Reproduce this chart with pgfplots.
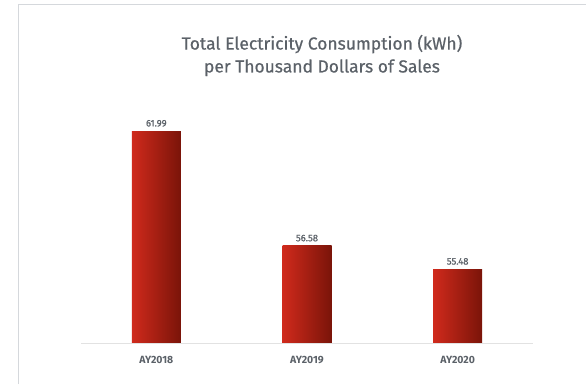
\documentclass[border=0pt]{standalone}
\usepackage{pgfplots}
\pgfplotsset{compat=1.18}
\usepackage{fontspec}
\setmainfont{Fira Sans}
\newfontfamily\titlefont[FakeBold=0.6]{Fira Sans}
\newfontfamily\labfont[FakeBold=0.8]{Fira Sans}
\definecolor{txt}{HTML}{5B6168}
\definecolor{barL}{HTML}{D02A1C}
\definecolor{barR}{HTML}{7A1409}
\definecolor{frame}{HTML}{D5D8DC}
\definecolor{base}{HTML}{E2E2E2}
\begin{document}
\begin{tikzpicture}[x=1bp,y=1bp]
\path[use as bounding box] (-81,-41) rectangle (505,343);
\draw[frame, line width=1bp] (-62,-41) -- (-62,338.5) -- (505,338.5);
\begin{axis}[
  at={(0,0)}, anchor=south west,
  scale only axis,
  width=452bp, height=243bp,
  xmin=-0.5, xmax=2.5,
  ymin=52, ymax=63.46,
  axis line style={draw=none},
  axis x line*=bottom,
  hide y axis,
  xtick={0,1,2},
  xticklabels={AY2018,AY2019,AY2020},
  xtick style={draw=none},
  x tick label style={font=\fontsize{10.5}{12}\selectfont\bfseries, text=txt, yshift=-5bp},
  ybar, bar width=49bp, bar shift=0pt,
  nodes near coords,
  every node near coord/.append style={font=\fontsize{9.5}{11}\selectfont\labfont, text=txt, yshift=1bp},
  nodes near coords style={/pgf/number format/.cd, fixed, fixed zerofill, precision=2, assume math mode=true},
  clip=false,
]
\addplot[draw=none, left color=barL, right color=barR] coordinates {(0,61.99)};
\addplot[draw=none, left color=barL, right color=barR] coordinates {(1,56.58)};
\addplot[draw=none, left color=barL, right color=barR] coordinates {(2,55.48)};
\draw[base, line width=1bp] (axis cs:-0.5,52) -- (axis cs:2.5,52);
\end{axis}
\node[font=\fontsize{17.5}{23}\selectfont\titlefont, text=txt, align=center] at (241,287.5) {Total Electricity Consumption (kWh)\\per Thousand Dollars of Sales};
\end{tikzpicture}
\end{document}
